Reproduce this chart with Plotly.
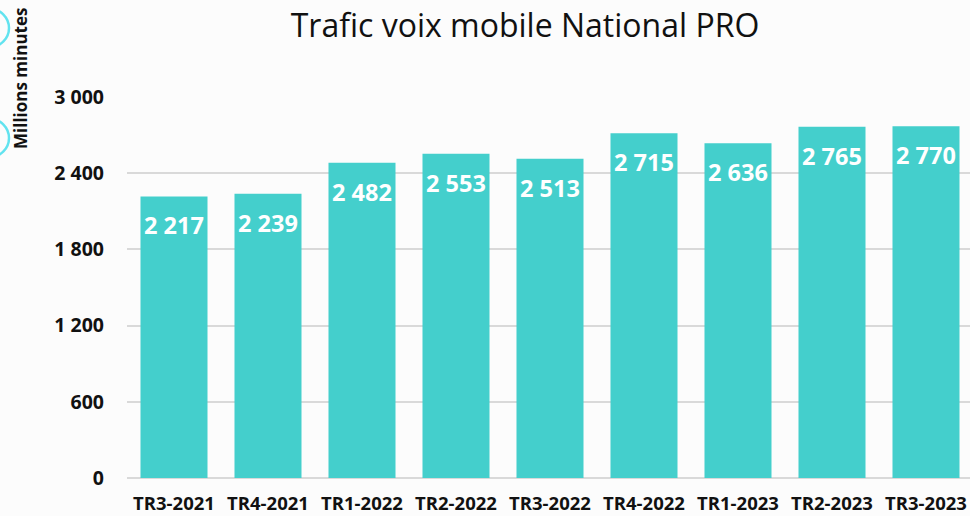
import plotly.graph_objects as go

# Quarterly national mobile voice traffic, professional segment (millions of minutes)
quarters = ["TR3-2021", "TR4-2021", "TR1-2022", "TR2-2022", "TR3-2022",
            "TR4-2022", "TR1-2023", "TR2-2023", "TR3-2023"]
minutes = [2217, 2239, 2482, 2553, 2513, 2715, 2636, 2765, 2770]
y_ticks = [0, 600, 1200, 1800, 2400, 3000]

BAR = "#44cfcc"
FONT = "Open Sans"


def fr_num(v):
    return f"{v:,}".replace(",", " ")


W, H = 970, 516
ml, mr, mt, mb = 127, 0, 97, 38

fig = go.Figure(
    go.Bar(
        x=list(range(len(quarters))),
        y=minutes,
        marker=dict(color=BAR, line=dict(width=0)),
        width=0.713,
        hoverinfo="skip",
    )
)

# value labels inside the top of each bar
for i, v in enumerate(minutes):
    fig.add_annotation(
        x=i, y=v, xref="x", yref="y",
        text=f"<b>{fr_num(v)}</b>",
        showarrow=False, yanchor="middle", yshift=-29,
        font=dict(family=FONT, size=23.5, color="white"),
    )

plot_w = W - ml - mr
plot_h = H - mt - mb

# vertical axis title in the left margin
fig.add_annotation(
    x=(20 - ml) / plot_w, y=(H - mb - 79) / plot_h,
    xref="paper", yref="paper",
    text="<b>Millions minutes</b>", textangle=-90,
    showarrow=False, xanchor="center", yanchor="middle",
    font=dict(family=FONT, size=17, color="#111111"),
)

# decorative rings at the left edge
for cy in (28, 138):
    fig.add_shape(
        type="circle", xref="paper", yref="paper",
        xsizemode="pixel", ysizemode="pixel",
        xanchor=(-10 - ml) / plot_w, yanchor=(H - mb - cy) / plot_h,
        x0=-19, x1=19, y0=-19, y1=19,
        line=dict(color="#62e3ef", width=2.5),
        layer="below",
    )

fig.update_layout(
    width=W, height=H,
    margin=dict(l=ml, r=mr, t=mt, b=mb),
    paper_bgcolor="#fcfcfc",
    plot_bgcolor="rgba(0,0,0,0)",
    showlegend=False,
    title=dict(
        text="Trafic voix mobile National PRO",
        x=(525) / W, xanchor="center",
        y=1 - 26 / H, yanchor="middle",
        font=dict(family=FONT, size=32, color="#111111"),
    ),
    xaxis=dict(
        tickmode="array",
        tickvals=list(range(len(quarters))),
        ticktext=[f"<b>{q}</b>" for q in quarters],
        range=[-0.5, -0.5 + plot_w / 94],
        showgrid=False, zeroline=False, showline=False,
        ticks="", ticklabelstandoff=12,
        tickfont=dict(family=FONT, size=18.5, color="#111111"),
        fixedrange=True,
    ),
    yaxis=dict(
        range=[0, 3000],
        tickmode="array",
        tickvals=y_ticks,
        ticktext=[f"<b>{fr_num(t)}</b>" for t in y_ticks],
        showgrid=True, gridcolor="#d9d9d9", gridwidth=1.5,
        zeroline=True, zerolinecolor="#d9d9d9", zerolinewidth=1.5,
        showline=False, ticks="", ticklabelstandoff=22,
        tickfont=dict(family=FONT, size=19.5, color="#111111"),
        fixedrange=True,
    ),
)

fig.write_html("out.html")
